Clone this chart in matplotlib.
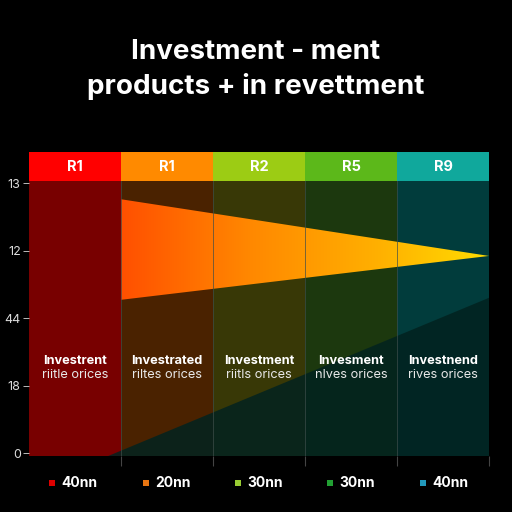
import matplotlib
matplotlib.use("Agg")
import matplotlib.pyplot as plt
import numpy as np
from matplotlib.patches import Rectangle, Polygon
from matplotlib.colors import LinearSegmentedColormap

# ---- data ----
title_lines = ["Investment - ment", "products + in revettment"]
column_labels = ["R1", "R1", "R2", "R5", "R9"]
header_colors = ["#ff0000", "#ff8a00", "#9ccc14", "#5cb81a", "#10a89c"]
body_colors = ["#780000", "#4a2200", "#383806", "#1c380e", "#013c3c"]
text_line1 = ["Investrent", "Investrated", "Investment", "Invesment", "Investnend"]
text_line2 = ["riitle orices", "riltes orices", "riitls orices", "nlves orices", "rives orices"]
ytick_positions = [0, 1, 2, 3, 4]
ytick_labels = ["0", "18", "44", "12", "13"]
legend_labels = ["40nn", "20nn", "30nn", "30nn", "40nn"]
legend_colors = ["#dd0000", "#e87511", "#99cc33", "#22a033", "#2299bb"]
wedge_start_x = 1.0
wedge_top = 3.76
wedge_bottom = 2.27
wedge_apex_x = 5.0
wedge_apex_y = 2.92
diag_start = (0.85, -0.05)
diag_end = (5.0, 2.30)

plt.rcParams['font.family'] = ['Inter', 'DejaVu Sans']

fig = plt.figure(figsize=(5.12, 5.12), dpi=100, facecolor="#000000")
ax = fig.add_axes([29/512, 1-456/512, 460/512, (456-152)/512])
ax.set_facecolor("#000000")
n = len(column_labels)
ylo, body_top, ytop = -0.044, 4.03, 4.46
ax.set_xlim(0, n)
ax.set_ylim(ylo, ytop)

# body columns
for i, c in enumerate(body_colors):
    ax.add_patch(Rectangle((i, ylo), 1, body_top - ylo, facecolor=c, edgecolor="none", zorder=1))

# lower diagonal overlay
poly = Polygon([diag_start, diag_end, (n, ylo), (diag_start[0], ylo)], closed=True,
               facecolor="#02221f", edgecolor="none", alpha=0.85, zorder=2)
ax.add_patch(poly)

# gradient wedge
cmap = LinearSegmentedColormap.from_list("w", [(0, "#ff5000"), (0.35, "#ff8800"),
                                               (0.7, "#ffb000"), (1, "#ffdc00")])
grad = np.linspace(0, 1, 256).reshape(1, -1)
im = ax.imshow(grad, cmap=cmap, extent=[wedge_start_x, wedge_apex_x, wedge_bottom - 0.1, wedge_top + 0.1],
               aspect="auto", zorder=3, interpolation="bilinear")
wedge = Polygon([(wedge_start_x, wedge_top), (wedge_apex_x, wedge_apex_y), (wedge_start_x, wedge_bottom)],
                closed=True, facecolor="none", edgecolor="none", transform=ax.transData)
ax.add_patch(wedge)
im.set_clip_path(wedge)

# grid lines at column boundaries
for i in range(1, n + 1):
    ax.plot([i, i], [ylo, body_top], color="#3e4e4a", lw=0.7, alpha=0.7, zorder=4)

# header band
for i, (c, lab) in enumerate(zip(header_colors, column_labels)):
    ax.add_patch(Rectangle((i, body_top), 1, ytop - body_top, facecolor=c, edgecolor="none", zorder=5))
    ax.text(i + 0.5, (body_top + ytop) / 2, lab, color="white", fontsize=10.5, fontweight="bold",
            ha="center", va="center", zorder=6)

# column texts
for i in range(n):
    ax.text(i + 0.5, 1.36, text_line1[i], color="white", fontsize=9.2, fontweight="bold",
            ha="center", va="center", zorder=6)
    ax.text(i + 0.5, 1.15, text_line2[i], color="#e8e8e8", fontsize=9.2,
            ha="center", va="center", zorder=6)

# axes styling
for s in ax.spines.values():
    s.set_visible(False)
ax.set_yticks(ytick_positions)
ax.set_yticklabels(ytick_labels)
ax.set_xticks(range(1, n + 1))
ax.set_xticklabels([])
ax.tick_params(axis="y", colors="#bbbbbb", labelcolor="#dddddd", labelsize=9, length=4, width=0.7, pad=2)
ax.tick_params(axis="x", colors="#444444", length=7, width=0.8)

# title
fig.text(0.5, 1 - 52/512, title_lines[0], color="white", fontsize=20, fontweight="bold", ha="center", va="center")
fig.text(0.5, 1 - 86/512, title_lines[1], color="white", fontsize=20, fontweight="bold", ha="center", va="center")

# legend
leg_x = [52, 146, 238, 330, 423]
for x, c, lab in zip(leg_x, legend_colors, legend_labels):
    fig.patches.append(Rectangle(((x - 3)/512, 1 - 486/512), 6/512, 6/512, facecolor=c,
                                 edgecolor="none", transform=fig.transFigure, figure=fig))
    fig.text((x + 9)/512, 1 - 483/512, lab, color="white", fontsize=10, fontweight="bold",
             ha="left", va="center")

fig.savefig("out.png", dpi=100, facecolor=fig.get_facecolor())
